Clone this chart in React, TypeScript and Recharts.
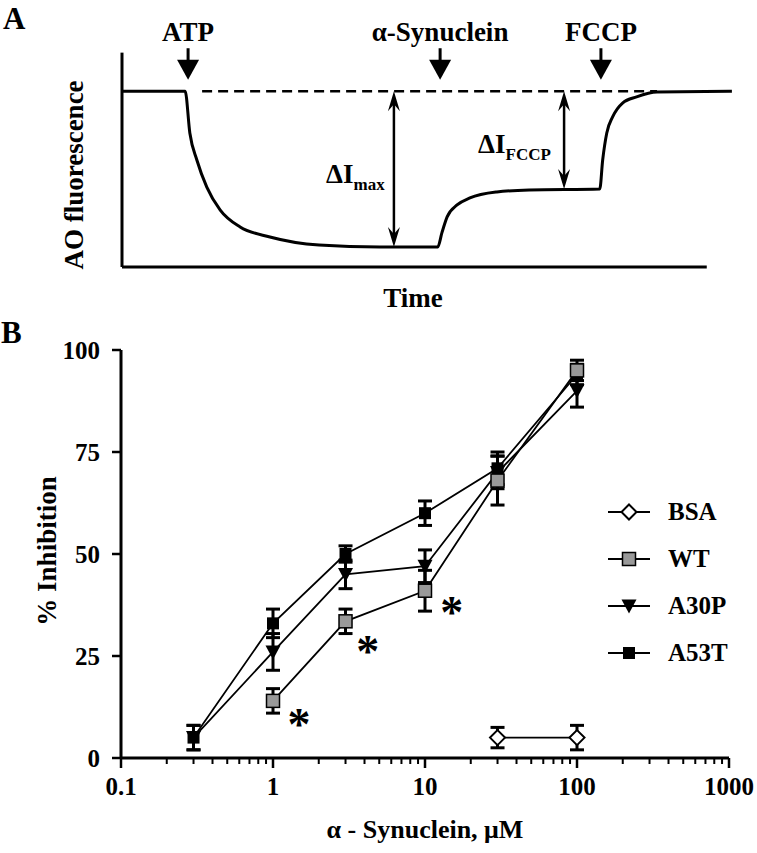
import React from 'react';
import {
  LineChart,
  Line,
  XAxis,
  YAxis,
  ReferenceLine,
  ReferenceDot,
  ErrorBar,
  Legend,
} from 'recharts';

const FONT = '"Liberation Serif", "Times New Roman", serif';

// ---- Panel A: schematic AO fluorescence trace (arbitrary units) ----
const traceTime = [0, 10.8, 11.6, 12.8, 14.5, 16.8, 20.2, 25.3, 33.7, 44.1, 54.0, 54.7, 55.6, 57.3, 59.5, 64.1, 69.7, 81.7, 82.2, 82.9, 83.9, 85.6, 88.0, 91.5, 104.3];
const traceLevel = [100, 100, 76.3, 60.9, 45.5, 32.4, 22.8, 17.1, 12.5, 11.4, 11.4, 19.4, 28.5, 35.3, 39.3, 42.7, 43.8, 44.4, 60.9, 76.3, 85.4, 93.3, 96.8, 99.6, 100];

const additionTimes = [11.3, 54.4, 81.9];
const additionNames = ['ATP', 'α-Synuclein', 'FCCP'];

const deltaTimes = [46.5, 75.6];
const deltaLows = [11.4, 44.4];
const deltaSubs = ['max', 'FCCP'];
const deltaLabelT = [34.9, 60.9];
const deltaLabelV = [47.8, 64.9];

const baseLevel = 100;

// ---- Panel B: % inhibition vs alpha-synuclein concentration ----
const xMajorTicks = [0.1, 1, 10, 100, 1000];
const xAllTicks = [
  0.1, 0.2, 0.3, 0.4, 0.5, 0.6, 0.7, 0.8, 0.9,
  1, 2, 3, 4, 5, 6, 7, 8, 9,
  10, 20, 30, 40, 50, 60, 70, 80, 90,
  100, 200, 300, 400, 500, 600, 700, 800, 900,
  1000,
];
const yTicks = [0, 25, 50, 75, 100];

const concA53T = [0.3, 1, 3, 10, 30, 100];
const inhA53T = [5, 33, 50, 60, 71, 94];
const errA53T = [3, 3.5, 2, 3, 4, 2.5];

const concA30P = [0.3, 1, 3, 10, 30, 100];
const inhA30P = [5, 26, 45, 47, 70, 90];
const errA30P = [3, 4.5, 3.5, 4, 4, 4];

const concWT = [1, 3, 10, 30, 100];
const inhWT = [14, 33.5, 41, 68, 95];
const errWT = [3, 3, 5, 6, 2.5];

const concBSA = [30, 100];
const inhBSA = [5, 5];
const errBSA = [2.5, 3];

const starConc = [1.48, 4.2, 15];
const starInh = [9.8, 27.7, 37.3];

const legendNames = ['BSA', 'WT', 'A30P', 'A53T'];

const toRows = (xs: number[], ys: number[], es: number[]) =>
  xs.map((x, i) => ({ x, y: ys[i], err: es[i] }));

const traceRows = traceTime.map((t, i) => ({ t, level: traceLevel[i] }));
const rowsA53T = toRows(concA53T, inhA53T, errA53T);
const rowsA30P = toRows(concA30P, inhA30P, errA30P);
const rowsWT = toRows(concWT, inhWT, errWT);
const rowsBSA = toRows(concBSA, inhBSA, errBSA);

function marker(kind: string, cx: number, cy: number, key?: string) {
  if (kind === 'A53T') {
    return <rect key={key} x={cx - 6} y={cy - 6} width={12} height={12} fill="#000" />;
  }
  if (kind === 'WT') {
    return (
      <rect key={key} x={cx - 6.5} y={cy - 6.5} width={13} height={13} fill="#999" stroke="#000" strokeWidth={1.5} />
    );
  }
  if (kind === 'A30P') {
    return (
      <polygon key={key} points={`${cx - 7.5},${cy - 6.5} ${cx + 7.5},${cy - 6.5} ${cx},${cy + 7.5}`} fill="#000" />
    );
  }
  return (
    <polygon
      key={key}
      points={`${cx},${cy - 7.5} ${cx + 7.5},${cy} ${cx},${cy + 7.5} ${cx - 7.5},${cy}`}
      fill="#fff"
      stroke="#000"
      strokeWidth={2}
    />
  );
}

const dotFor = (kind: string) => (p: any) => marker(kind, p.cx, p.cy, `${kind}-${p.index}`);

const XTick = (props: any) => {
  const { x, y, payload } = props;
  const v = payload.value;
  const major = xMajorTicks.includes(v);
  return (
    <g>
      <line x1={x} x2={x} y1={y} y2={y + (major ? 10 : 6)} stroke="#000" strokeWidth={major ? 2.5 : 2} />
      {major && (
        <text x={x} y={y + 37} textAnchor="middle" fontSize={25} fontWeight={700} fill="#000" fontFamily={FONT}>
          {String(v)}
        </text>
      )}
    </g>
  );
};

const renderLegend = () => (
  <div style={{ width: 150, fontFamily: FONT }}>
    {legendNames.map((name) => (
      <div key={name} style={{ display: 'flex', alignItems: 'center', height: 47 }}>
        <svg width={50} height={20} style={{ display: 'block' }}>
          <line x1={2} x2={44} y1={10} y2={10} stroke="#000" strokeWidth={2} />
          {marker(name, 23, 10)}
        </svg>
        <span style={{ fontSize: 25, fontWeight: 700, marginLeft: 12, color: '#000', lineHeight: 1 }}>{name}</span>
      </div>
    ))}
  </div>
);

const downHead = (p: any) => (
  <polygon points={`${p.cx},${p.cy} ${p.cx - 11},${p.cy - 20} ${p.cx + 11},${p.cy - 20}`} fill="#000" />
);
const stealth = (dir: number) => (p: any) => (
  <polygon
    points={`${p.cx},${p.cy} ${p.cx - 6},${p.cy - dir * 20} ${p.cx},${p.cy - dir * 13} ${p.cx + 6},${p.cy - dir * 20}`}
    fill="#000"
  />
);

export default function App() {
  return (
    <div
      style={{
        position: 'absolute',
        left: 0,
        top: 0,
        width: 757,
        height: 853,
        background: '#fff',
        fontFamily: FONT,
        fontWeight: 700,
      }}
    >
      {/* Panel A */}
      <div style={{ position: 'absolute', left: 0, top: 0 }}>
        <LineChart width={757} height={300} margin={{ top: 21, right: 21, bottom: 33, left: 122 }}>
          <XAxis hide type="number" dataKey="t" domain={[0, 105]} allowDataOverflow />
          <YAxis hide type="number" domain={[0, 140]} allowDataOverflow />
          <ReferenceLine segment={[{ x: 0, y: 0 }, { x: 0, y: 122 }]} stroke="#000" strokeWidth={3} />
          <ReferenceLine segment={[{ x: 0, y: 0 }, { x: 100, y: 0 }]} stroke="#000" strokeWidth={3} />
          <ReferenceLine
            segment={[{ x: 13.7, y: baseLevel }, { x: 91.5, y: baseLevel }]}
            stroke="#000"
            strokeWidth={2.5}
            strokeDasharray="10 6"
          />
          <Line
            data={traceRows}
            dataKey="level"
            type="monotone"
            stroke="#000"
            strokeWidth={3}
            dot={false}
            isAnimationActive={false}
          />
          {additionTimes.map((t, i) => (
            <ReferenceLine
              key={`shaft-${i}`}
              segment={[{ x: t, y: 124.5 }, { x: t, y: 117 }]}
              stroke="#000"
              strokeWidth={3}
            />
          ))}
          {additionTimes.map((t, i) => (
            <ReferenceDot key={`head-${i}`} x={t} y={106.5} r={0} shape={downHead} />
          ))}
          {additionTimes.map((t, i) => (
            <ReferenceDot
              key={`lab-${i}`}
              x={t}
              y={128.6}
              r={0}
              shape={(p: any) => (
                <text x={p.cx} y={p.cy} textAnchor="middle" fontSize={27} fontWeight={700} fill="#000" fontFamily={FONT}>
                  {additionNames[i]}
                </text>
              )}
            />
          ))}
          {deltaTimes.map((t, i) => (
            <ReferenceLine
              key={`dshaft-${i}`}
              segment={[{ x: t, y: baseLevel - 5 }, { x: t, y: deltaLows[i] + 5 }]}
              stroke="#000"
              strokeWidth={2.5}
            />
          ))}
          {deltaTimes.map((t, i) => (
            <ReferenceDot key={`dup-${i}`} x={t} y={baseLevel} r={0} shape={stealth(-1)} />
          ))}
          {deltaTimes.map((t, i) => (
            <ReferenceDot key={`ddn-${i}`} x={t} y={deltaLows[i]} r={0} shape={stealth(1)} />
          ))}
          {deltaLabelT.map((t, i) => (
            <ReferenceDot
              key={`dlab-${i}`}
              x={t}
              y={deltaLabelV[i]}
              r={0}
              shape={(p: any) => (
                <text x={p.cx} y={p.cy} textAnchor="start" fontSize={27} fontWeight={700} fill="#000" fontFamily={FONT}>
                  ΔI
                  <tspan fontSize={17} dy={7}>
                    {deltaSubs[i]}
                  </tspan>
                </text>
              )}
            />
          ))}
        </LineChart>
      </div>

      {/* Panel B */}
      <div style={{ position: 'absolute', left: 0, top: 330 }}>
        <LineChart width={757} height={523} margin={{ top: 20, right: 28, bottom: 35, left: 0 }}>
          <XAxis
            dataKey="x"
            type="number"
            scale="log"
            domain={[0.1, 1000]}
            allowDataOverflow
            ticks={xAllTicks}
            interval={0}
            tick={XTick}
            tickSize={0}
            tickMargin={0}
            tickLine={false}
            axisLine={{ stroke: '#000', strokeWidth: 3 }}
            height={60}
          />
          <YAxis
            type="number"
            domain={[0, 100]}
            ticks={yTicks}
            interval={0}
            width={121}
            tickSize={9}
            tickMargin={12}
            tickLine={{ stroke: '#000', strokeWidth: 2.5 }}
            axisLine={{ stroke: '#000', strokeWidth: 3 }}
            tick={{ fill: '#000', fontSize: 25, fontWeight: 700, fontFamily: FONT }}
          />
          <Legend
            layout="vertical"
            align="center"
            verticalAlign="middle"
            content={renderLegend}
            wrapperStyle={{ left: 606, top: 158, width: 150 }}
          />
          <Line
            name="A53T"
            data={rowsA53T}
            dataKey="y"
            stroke="#000"
            strokeWidth={1.8}
            dot={dotFor('A53T')}
            isAnimationActive={false}
          >
            <ErrorBar dataKey="err" direction="y" width={7} stroke="#000" strokeWidth={3} />
          </Line>
          <Line
            name="A30P"
            data={rowsA30P}
            dataKey="y"
            stroke="#000"
            strokeWidth={1.8}
            dot={dotFor('A30P')}
            isAnimationActive={false}
          >
            <ErrorBar dataKey="err" direction="y" width={7} stroke="#000" strokeWidth={3} />
          </Line>
          <Line
            name="WT"
            data={rowsWT}
            dataKey="y"
            stroke="#000"
            strokeWidth={1.8}
            dot={dotFor('WT')}
            isAnimationActive={false}
          >
            <ErrorBar dataKey="err" direction="y" width={7} stroke="#000" strokeWidth={3} />
          </Line>
          <Line
            name="BSA"
            data={rowsBSA}
            dataKey="y"
            stroke="#000"
            strokeWidth={1.8}
            dot={dotFor('BSA')}
            isAnimationActive={false}
          >
            <ErrorBar dataKey="err" direction="y" width={7} stroke="#000" strokeWidth={3} />
          </Line>
          {starConc.map((c, i) => (
            <ReferenceDot
              key={`star-${i}`}
              x={c}
              y={starInh[i]}
              r={0}
              shape={(p: any) => (
                <text x={p.cx} y={p.cy + 22} textAnchor="middle" fontSize={46} fontWeight={700} fill="#000" fontFamily={FONT}>
                  *
                </text>
              )}
            />
          ))}
        </LineChart>
      </div>

      {/* Panel letters and axis titles */}
      <svg
        width={757}
        height={853}
        style={{ position: 'absolute', left: 0, top: 0, pointerEvents: 'none' }}
        fontFamily={FONT}
        fontWeight={700}
      >
        <text x={3} y={29} fontSize={31}>A</text>
        <text x={1} y={343} fontSize={31}>B</text>
        <text x={83} y={175} fontSize={27} textAnchor="middle" transform="rotate(-90 83 175)">
          AO fluorescence
        </text>
        <text x={413} y={307} fontSize={27} textAnchor="middle">Time</text>
        <text x={56} y={551} fontSize={27} textAnchor="middle" transform="rotate(-90 56 551)">
          % Inhibition
        </text>
        <text x={425} y={838} fontSize={26} textAnchor="middle">α - Synuclein, μM</text>
      </svg>
    </div>
  );
}
